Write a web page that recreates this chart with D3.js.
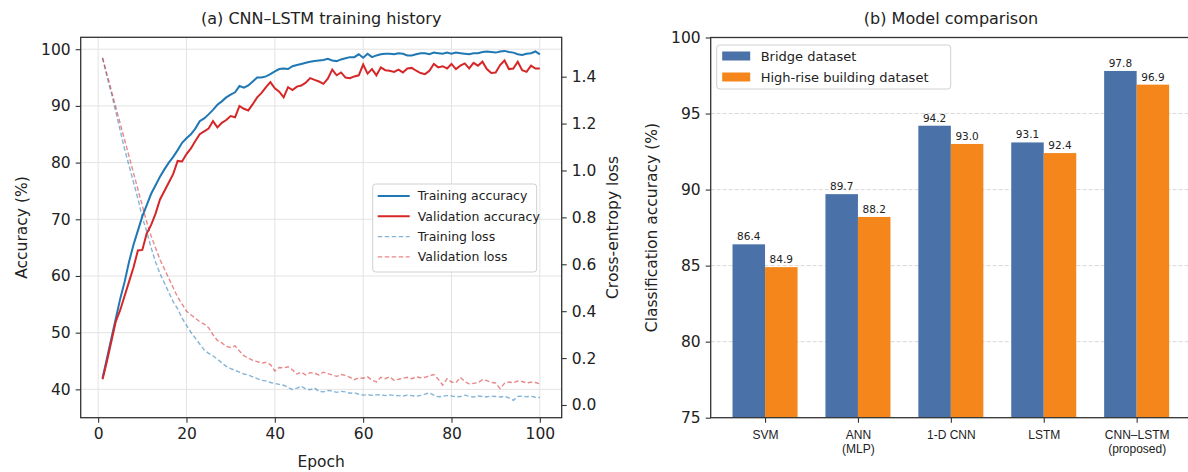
<!DOCTYPE html>
<html>
<head>
<meta charset="utf-8">
<script src="https://cdn.jsdelivr.net/npm/d3@7"></script>
<style>
  body { margin: 0; background: #fff; }
  svg { font-family: "DejaVu Sans", sans-serif; display: block; }
</style>
</head>
<body>
<svg width="1188" height="472"></svg>
<script>
// ---- data: (a) training history ----
var epochs = d3.range(1, 101);

var trainAcc = [42.0, 45.5, 49.0, 52.5, 56.0, 59.0, 62.5, 65.5, 68.0, 70.5,
  72.5, 74.5, 76.0, 77.5, 78.8, 80.0, 81.0, 82.2, 83.5, 84.3,
  85.0, 86.0, 87.3, 87.8, 88.5, 89.3, 90.2, 90.8, 91.5, 92.0,
  92.4, 93.5, 93.2, 93.6, 94.3, 95.0, 95.0, 95.2, 95.6, 96.1,
  96.5, 96.6, 96.5, 97.0, 97.2, 97.4, 97.6, 97.8, 97.9, 98.0,
  98.1, 98.3, 98.0, 97.9, 98.2, 98.4, 98.6, 98.6, 99.1, 98.5,
  99.2, 98.6, 98.9, 99.1, 99.2, 99.2, 99.1, 99.3, 99.2, 98.9,
  98.9, 99.1, 99.3, 99.3, 99.1, 99.4, 99.3, 99.2, 99.4, 99.2,
  99.4, 99.3, 99.2, 99.1, 99.3, 99.3, 99.5, 99.6, 99.5, 99.4,
  99.6, 99.7, 99.5, 99.4, 99.1, 99.0, 99.2, 99.3, 99.6, 99.1];

var valAcc = [41.8, 45.0, 48.5, 52.0, 54.0, 56.5, 59.0, 61.5, 64.5, 64.6,
  67.5, 69.0, 71.0, 73.5, 75.0, 76.5, 78.0, 80.3, 80.2, 81.5,
  82.5, 83.8, 85.0, 85.5, 86.0, 87.3, 86.2, 87.0, 87.5, 88.2,
  88.0, 90.0, 89.5, 89.2, 90.3, 91.5, 92.3, 93.3, 94.2, 93.1,
  92.5, 91.5, 93.3, 92.8, 93.4, 93.6, 94.1, 94.9, 94.6, 94.3,
  93.9, 94.8, 96.4, 95.4, 95.9, 95.0, 94.9, 95.2, 95.4, 97.3,
  95.7, 96.5, 95.4, 96.8, 96.3, 96.2, 96.0, 96.4, 95.9, 96.6,
  96.7, 96.2, 95.8, 95.6, 96.2, 97.4, 96.8, 97.0, 96.6, 97.4,
  96.5, 97.1, 97.5, 96.6, 97.6, 97.1, 97.8, 96.5, 95.8, 95.9,
  97.2, 98.0, 96.5, 96.6, 97.8, 96.3, 96.0, 97.1, 96.6, 96.6];

var trainLoss = [1.48, 1.40, 1.33, 1.25, 1.17, 1.09, 1.02, 0.95, 0.88, 0.80,
  0.74, 0.67, 0.61, 0.56, 0.52, 0.48, 0.44, 0.41, 0.37, 0.34,
  0.31, 0.285, 0.26, 0.235, 0.22, 0.21, 0.195, 0.18, 0.165, 0.155,
  0.148, 0.14, 0.132, 0.128, 0.12, 0.112, 0.105, 0.103, 0.096, 0.092,
  0.088, 0.084, 0.075, 0.066, 0.072, 0.08, 0.068, 0.065, 0.072, 0.058,
  0.056, 0.062, 0.06, 0.054, 0.058, 0.056, 0.05, 0.052, 0.046, 0.042,
  0.044, 0.041, 0.043, 0.044, 0.04, 0.043, 0.041, 0.04, 0.038, 0.042,
  0.04, 0.037, 0.041, 0.046, 0.052, 0.042, 0.035, 0.037, 0.04, 0.039,
  0.035, 0.036, 0.042, 0.037, 0.034, 0.038, 0.036, 0.035, 0.038, 0.036,
  0.034, 0.037, 0.03, 0.02, 0.036, 0.038, 0.035, 0.037, 0.033, 0.032];

var valLoss = [1.48, 1.41, 1.34, 1.27, 1.20, 1.13, 1.06, 0.99, 0.92, 0.85,
  0.78, 0.72, 0.67, 0.62, 0.58, 0.54, 0.50, 0.46, 0.43, 0.40,
  0.385, 0.37, 0.355, 0.345, 0.33, 0.30, 0.275, 0.265, 0.25, 0.245,
  0.252, 0.23, 0.21, 0.2, 0.19, 0.185, 0.178, 0.182, 0.172, 0.145,
  0.16, 0.158, 0.163, 0.15, 0.132, 0.14, 0.128, 0.138, 0.135, 0.128,
  0.14, 0.134, 0.128, 0.122, 0.13, 0.126, 0.118, 0.108, 0.116, 0.114,
  0.12, 0.106, 0.098, 0.118, 0.112, 0.12, 0.105, 0.11, 0.114, 0.118,
  0.112, 0.12, 0.116, 0.118, 0.124, 0.13, 0.11, 0.085, 0.112, 0.098,
  0.095, 0.118, 0.1, 0.09, 0.092, 0.095, 0.108, 0.104, 0.096, 0.094,
  0.07, 0.092, 0.098, 0.095, 0.102, 0.1, 0.094, 0.097, 0.096, 0.09];

var epochTicks = [0, 20, 40, 60, 80, 100];
var accTicks = [40, 50, 60, 70, 80, 90, 100];
var lossTicks = [0.0, 0.2, 0.4, 0.6, 0.8, 1.0, 1.2, 1.4];

// ---- data: (b) model comparison ----
var models = [["SVM"], ["ANN", "(MLP)"], ["1-D CNN"], ["LSTM"], ["CNN–LSTM", "(proposed)"]];
var bridgeAcc = [86.4, 89.7, 94.2, 93.1, 97.8];
var highriseAcc = [84.9, 88.2, 93.0, 92.4, 96.9];
var barTicks = [75, 80, 85, 90, 95, 100];

var svg = d3.select("svg");
var spine = "#333";
var gridCol = "#e3e3e3";

// ================= (a) =================
var a = {left: 80.7, right: 561.7, top: 37.3, bottom: 417.7};

var x = d3.scaleLinear().domain([-3.95, 104.95]).range([a.left, a.right]);
var yAcc = d3.scaleLinear().domain([35, 102.1]).range([a.bottom, a.top]);
var yLoss = d3.scaleLinear().domain([-0.0542, 1.5679]).range([a.bottom, a.top]);

var ga = svg.append("g");

// grid
ga.append("g").selectAll("line").data(epochTicks).enter().append("line")
    .attr("x1", function(d) { return x(d); }).attr("x2", function(d) { return x(d); })
    .attr("y1", a.top).attr("y2", a.bottom)
    .attr("stroke", gridCol).attr("stroke-width", 1);
ga.append("g").selectAll("line").data(accTicks).enter().append("line")
    .attr("x1", a.left).attr("x2", a.right)
    .attr("y1", function(d) { return yAcc(d); }).attr("y2", function(d) { return yAcc(d); })
    .attr("stroke", gridCol).attr("stroke-width", 1);

function styleAxis(g, size) {
    g.selectAll(".domain").remove();
    g.selectAll(".tick line").attr("stroke", spine).attr("stroke-width", 1.1);
    g.selectAll(".tick text").attr("fill", "#222").style("font-size", size + "px")
        .style("font-family", "DejaVu Sans");
}

ga.append("g")
    .attr("transform", "translate(0," + a.bottom + ")")
    .call(d3.axisBottom(x).tickValues(epochTicks).tickSize(5).tickPadding(5))
    .call(styleAxis, 15.5);
ga.append("g")
    .attr("transform", "translate(" + a.left + ",0)")
    .call(d3.axisLeft(yAcc).tickValues(accTicks).tickSize(5).tickPadding(5))
    .call(styleAxis, 15.5);
ga.append("g")
    .attr("transform", "translate(" + a.right + ",0)")
    .call(d3.axisRight(yLoss).tickValues(lossTicks).tickSize(5).tickPadding(5)
        .tickFormat(d3.format(".1f")))
    .call(styleAxis, 15.5);

var accLine = function(vals) {
    return d3.line().x(function(d, i) { return x(epochs[i]); })
        .y(function(d) { return yAcc(d); })(vals);
};
var lossLine = function(vals) {
    return d3.line().x(function(d, i) { return x(epochs[i]); })
        .y(function(d) { return yLoss(d); })(vals);
};

ga.append("path").attr("d", accLine(trainAcc))
    .attr("fill", "none").attr("stroke", "#1f77b4").attr("stroke-width", 2);
ga.append("path").attr("d", accLine(valAcc))
    .attr("fill", "none").attr("stroke", "#d62728").attr("stroke-width", 2);
ga.append("path").attr("d", lossLine(trainLoss))
    .attr("fill", "none").attr("stroke", "#1f77b4").attr("stroke-opacity", 0.55)
    .attr("stroke-width", 1.4).attr("stroke-dasharray", "4.5,2.5");
ga.append("path").attr("d", lossLine(valLoss))
    .attr("fill", "none").attr("stroke", "#d62728").attr("stroke-opacity", 0.55)
    .attr("stroke-width", 1.4).attr("stroke-dasharray", "4.5,2.5");

// frame
ga.append("rect")
    .attr("x", a.left).attr("y", a.top)
    .attr("width", a.right - a.left).attr("height", a.bottom - a.top)
    .attr("fill", "none").attr("stroke", spine).attr("stroke-width", 1.3);

// legend
var legA = [
    {label: "Training accuracy", color: "#1f77b4", dash: null, op: 1, w: 2},
    {label: "Validation accuracy", color: "#d62728", dash: null, op: 1, w: 2},
    {label: "Training loss", color: "#1f77b4", dash: "4.5,2.5", op: 0.55, w: 1.4},
    {label: "Validation loss", color: "#d62728", dash: "4.5,2.5", op: 0.55, w: 1.4}
];
var lg = ga.append("g").attr("transform", "translate(372.7,184)");
lg.append("rect").attr("width", 164).attr("height", 88).attr("rx", 3)
    .attr("fill", "#fff").attr("fill-opacity", 0.85)
    .attr("stroke", "#d0d0d0").attr("stroke-width", 1);
var li = lg.selectAll("g.item").data(legA).enter().append("g")
    .attr("class", "item")
    .attr("transform", function(d, i) { return "translate(0," + (12 + i * 20.3) + ")"; });
li.append("line").attr("x1", 5).attr("x2", 37)
    .attr("stroke", function(d) { return d.color; })
    .attr("stroke-opacity", function(d) { return d.op; })
    .attr("stroke-width", function(d) { return d.w; })
    .attr("stroke-dasharray", function(d) { return d.dash; });
li.append("text").attr("x", 45).attr("dy", "0.35em")
    .style("font-size", "12.5px").attr("fill", "#222")
    .text(function(d) { return d.label; });

// titles and labels
svg.append("text").attr("x", (a.left + a.right) / 2).attr("y", 24)
    .attr("text-anchor", "middle").style("font-size", "16px").attr("fill", "#222")
    .text("(a) CNN–LSTM training history");
svg.append("text").attr("x", (a.left + a.right) / 2).attr("y", 467)
    .attr("text-anchor", "middle").style("font-size", "15.5px").attr("fill", "#222")
    .text("Epoch");
svg.append("text")
    .attr("transform", "translate(27," + ((a.top + a.bottom) / 2) + ") rotate(-90)")
    .attr("text-anchor", "middle").style("font-size", "15.5px").attr("fill", "#222")
    .text("Accuracy (%)");
svg.append("text")
    .attr("transform", "translate(618," + ((a.top + a.bottom) / 2) + ") rotate(-90)")
    .attr("text-anchor", "middle").style("font-size", "15.5px").attr("fill", "#222")
    .text("Cross-entropy loss");

// ================= (b) =================
var b = {left: 710.7, right: 1191, top: 37.5, bottom: 417.7};
var xb = d3.scaleLinear().domain([-0.585, 4.585]).range([b.left, b.right]);
var yb = d3.scaleLinear().domain([75, 100]).range([b.bottom, b.top]);
var bw = 0.35;

var gb = svg.append("g");

gb.append("g").selectAll("line").data(barTicks.slice(1, -1)).enter().append("line")
    .attr("x1", b.left).attr("x2", b.right)
    .attr("y1", function(d) { return yb(d); }).attr("y2", function(d) { return yb(d); })
    .attr("stroke", "#d8d8d8").attr("stroke-width", 1).attr("stroke-dasharray", "4,2");

gb.append("g").selectAll("rect").data(bridgeAcc).enter().append("rect")
    .attr("x", function(d, i) { return xb(i - bw); })
    .attr("width", xb(bw) - xb(0))
    .attr("y", function(d) { return yb(d); })
    .attr("height", function(d) { return b.bottom - yb(d); })
    .attr("fill", "#4a72a8");
gb.append("g").selectAll("rect").data(highriseAcc).enter().append("rect")
    .attr("x", function(d, i) { return xb(i); })
    .attr("width", xb(bw) - xb(0))
    .attr("y", function(d) { return yb(d); })
    .attr("height", function(d) { return b.bottom - yb(d); })
    .attr("fill", "#f5861c");

gb.append("g").selectAll("text").data(bridgeAcc).enter().append("text")
    .attr("x", function(d, i) { return xb(i - bw / 2); })
    .attr("y", function(d) { return yb(d) - 4; })
    .attr("text-anchor", "middle").style("font-size", "10.5px").attr("fill", "#222")
    .text(function(d) { return d.toFixed(1); });
gb.append("g").selectAll("text").data(highriseAcc).enter().append("text")
    .attr("x", function(d, i) { return xb(i + bw / 2); })
    .attr("y", function(d) { return yb(d) - 4; })
    .attr("text-anchor", "middle").style("font-size", "10.5px").attr("fill", "#222")
    .text(function(d) { return d.toFixed(1); });

gb.append("g")
    .attr("transform", "translate(" + b.left + ",0)")
    .call(d3.axisLeft(yb).tickValues(barTicks).tickSize(5).tickPadding(5))
    .call(styleAxis, 15.5);

var xa = gb.append("g")
    .attr("transform", "translate(0," + b.bottom + ")")
    .call(d3.axisBottom(xb).tickValues(d3.range(models.length)).tickSize(5).tickPadding(6)
        .tickFormat(""))
    .call(styleAxis, 12);
xa.selectAll(".tick").append("text")
    .attr("fill", "#222").attr("text-anchor", "middle")
    .style("font-size", "12px")
    .selectAll("tspan").data(function(d) { return models[d]; }).enter().append("tspan")
    .attr("x", 0).attr("y", function(d, i) { return 21 + i * 14; })
    .text(function(d) { return d; });

// spines (right one sits past the canvas edge)
gb.append("rect")
    .attr("x", b.left).attr("y", b.top)
    .attr("width", b.right - b.left).attr("height", b.bottom - b.top)
    .attr("fill", "none").attr("stroke", spine).attr("stroke-width", 1.3);

// legend
var legB = [{label: "Bridge dataset", color: "#4a72a8"},
            {label: "High-rise building dataset", color: "#f5861c"}];
var lb = gb.append("g").attr("transform", "translate(716.7,45)");
lb.append("rect").attr("width", 234).attr("height", 44).attr("rx", 3)
    .attr("fill", "#fff").attr("fill-opacity", 0.85)
    .attr("stroke", "#d0d0d0").attr("stroke-width", 1);
var lbi = lb.selectAll("g.item").data(legB).enter().append("g")
    .attr("class", "item")
    .attr("transform", function(d, i) { return "translate(0," + (11 + i * 21) + ")"; });
lbi.append("rect").attr("x", 5.5).attr("y", -4.5).attr("width", 28).attr("height", 9)
    .attr("fill", function(d) { return d.color; });
lbi.append("text").attr("x", 44).attr("dy", "0.35em")
    .style("font-size", "13px").attr("fill", "#222")
    .text(function(d) { return d.label; });

svg.append("text").attr("x", 951).attr("y", 24)
    .attr("text-anchor", "middle").style("font-size", "16px").attr("fill", "#222")
    .text("(b) Model comparison");
svg.append("text")
    .attr("transform", "translate(657," + ((b.top + b.bottom) / 2) + ") rotate(-90)")
    .attr("text-anchor", "middle").style("font-size", "15.5px").attr("fill", "#222")
    .text("Classification accuracy (%)");
</script>
</body>
</html>
